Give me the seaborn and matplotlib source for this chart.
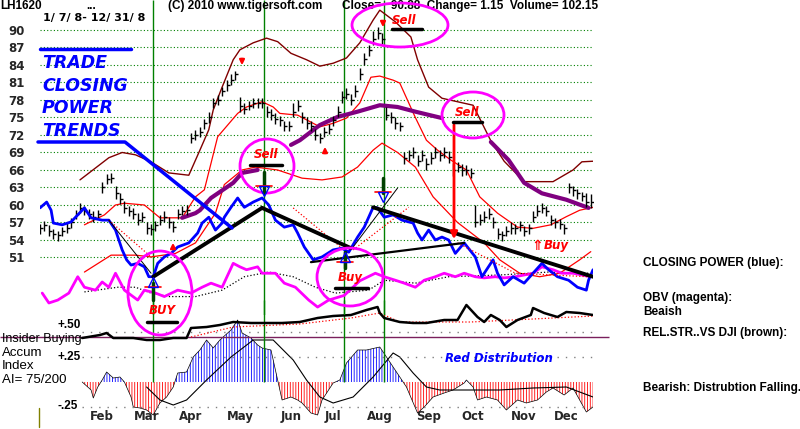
import numpy as np
import matplotlib
matplotlib.use("Agg")
import matplotlib.pyplot as plt
import seaborn as sns
from matplotlib.patches import Ellipse

# x values are trading days counted from 1/7/08
bar_cl = [56, 56.5, 55.5, 55, 54.8, 55.5, 56, 57, 58.5, 59.5,
          59, 58.5, 58, 58.5, 63, 64.5, 64.7, 62, 61, 59.5,
          59, 58.5, 57.5, 58, 56, 55.8, 56.5, 57.5, 58, 57,
          56.3, 58.5, 59, 59.2, 71.5, 72, 72.5, 74, 75, 77.5,
          78, 79.5, 80.5, 81.5, 82.5, 77, 76.5, 77, 77.5, 77.5,
          77.5, 76, 75.5, 74.8, 74.5, 73.5, 73.5, 76, 77, 75,
          74, 73.5, 72, 71.5, 72.5, 73, 74.5, 76, 78.5, 79,
          78, 79.5, 82.5, 85, 86.5, 88.5, 89.5, 88.5, 75.5, 75,
          74, 73.5, 68, 68.5, 69, 67.5, 68.5, 67, 68, 69,
          68.5, 69, 68.2, 66, 66.5, 66, 66, 65.5, 57, 57.5,
          58, 58.5, 57, 55, 54.8, 55.5, 56, 56, 56.5, 55.5,
          56, 58, 59, 59.5, 59, 57.5, 57, 56.8, 56, 63,
          62.5, 62, 61.5, 60.5, 60.5]
bar_hi = [56.8, 57.3, 56.6, 55.8, 55.6, 56.3, 56.9, 57.8, 59.2, 60.3,
          59.8, 59.3, 58.9, 59.2, 64.0, 65.3, 65.4, 63.2, 62.0, 60.6,
          59.8, 59.4, 58.6, 58.8, 57.0, 56.7, 57.3, 58.3, 58.9, 57.9,
          57.2, 59.3, 59.8, 60.0, 72.4, 72.8, 73.4, 74.8, 75.9, 78.3,
          78.9, 80.3, 81.4, 82.4, 83.0, 78.5, 77.4, 77.8, 78.3, 78.3,
          78.4, 77.0, 76.4, 75.7, 75.3, 74.4, 74.4, 77.5, 78.0, 76.0,
          75.0, 74.4, 73.0, 72.3, 73.3, 73.8, 75.3, 77.0, 79.5, 80.0,
          79.0, 80.5, 83.5, 86.0, 87.5, 89.8, 90.5, 89.5, 76.8, 76.0,
          75.0, 74.3, 69.0, 69.5, 70.0, 68.5, 69.5, 68.0, 69.0, 70.0,
          69.5, 70.0, 69.2, 67.2, 67.3, 67.0, 66.8, 66.3, 60.0, 58.5,
          59.0, 59.4, 58.0, 56.0, 55.6, 56.4, 57.0, 56.8, 57.3, 56.4,
          56.8, 59.0, 60.0, 60.3, 59.8, 58.3, 57.8, 57.6, 56.8, 63.8,
          63.3, 62.8, 62.3, 62.0, 61.8]
bar_lo = [55.0, 55.5, 54.6, 54.2, 53.8, 54.6, 55.2, 56.1, 57.6, 58.6,
          58.2, 57.6, 57.1, 57.7, 62.0, 63.6, 63.8, 61.0, 60.1, 58.6,
          58.1, 57.6, 56.6, 57.1, 55.0, 54.9, 55.6, 56.6, 57.1, 56.0,
          55.3, 57.6, 58.2, 58.3, 70.6, 71.2, 71.6, 73.1, 74.1, 76.6,
          77.1, 78.6, 79.6, 80.6, 81.5, 76.0, 75.6, 76.2, 76.6, 76.7,
          76.6, 75.1, 74.6, 73.9, 73.6, 72.6, 72.7, 75.0, 76.1, 74.1,
          73.1, 72.6, 71.1, 70.6, 71.6, 72.1, 73.6, 75.0, 77.5, 78.1,
          77.1, 78.5, 81.5, 84.0, 85.5, 87.5, 88.5, 87.6, 74.5, 74.1,
          73.1, 72.6, 67.0, 67.6, 68.1, 66.6, 67.6, 66.0, 67.1, 68.1,
          67.6, 68.1, 67.2, 65.0, 65.6, 65.0, 65.1, 64.6, 56.2, 56.6,
          57.1, 57.6, 56.0, 54.1, 53.9, 54.6, 55.1, 55.1, 55.6, 54.6,
          55.1, 57.0, 58.1, 58.6, 58.1, 56.6, 56.1, 55.9, 55.1, 62.0,
          61.6, 61.1, 60.6, 59.6, 59.5]

upper_x = [18, 31, 37, 43, 50, 58, 67, 72, 76, 78, 82, 87, 90, 96, 102, 107, 113, 120, 126, 132,
           138, 144, 150, 153, 160, 167, 170, 175, 181, 195, 203, 209, 218, 231, 240, 244, 249]
upper_y = [64.3, 68.1, 69.0, 68.6, 67.4, 65.5, 65.1, 69.4, 72.9, 76.3, 80.2, 84.9, 86.6, 87.8, 88.6, 88.0, 86.0, 84.9, 83.8, 84.3,
           85.2, 87.8, 91.7, 93.4, 91.4, 88.8, 84.9, 80.2, 78.3, 77.1, 71.0, 67.5, 64.0, 64.0, 66.0, 67.4, 67.5]

midA_x = [20, 29, 34, 38, 47, 54, 64, 70, 74, 80, 89, 93, 100, 105, 108, 116, 120, 126, 132, 138,
          144, 149, 153, 159, 162, 169, 174, 179, 185, 192, 198, 206, 215, 222, 230, 237, 243, 249]
midA_y = [56.6, 58.3, 60.0, 60.3, 60.0, 57.8, 57.8, 61.4, 62.6, 71.7, 75.7, 76.8, 77.7, 76.8, 75.7, 75.4, 74.6, 73.4, 74.0, 74.9,
          77.5, 81.9, 82.1, 81.4, 80.9, 75.0, 71.1, 69.4, 67.7, 66.0, 61.4, 58.6, 56.2, 56.0, 56.6, 58.0, 59.1, 59.6]

lowB_x = [20, 32, 43, 50, 61, 70, 79, 83, 91, 97, 107, 118, 127, 136, 143, 150, 154, 161, 169, 177,
          188, 200, 207, 216, 225, 234, 243, 248]
lowB_y = [48.5, 51.4, 51.4, 51.1, 51.7, 53.5, 58.6, 63.5, 66.0, 66.5, 66.0, 64.6, 64.3, 64.8, 66.5, 69.4, 70.6, 69.0, 66.5, 61.4,
          57.0, 53.5, 50.6, 48.3, 47.7, 48.3, 50.6, 52.0]

ma_x = [64, 70, 72, 77, 87, 91, 98, np.nan, 113, 117, 126, 134, 143, 153, 161, 169, 181, np.nan,
        203, 211, 218, 226, 237, 247]
ma_y = [57.8, 58.6, 59.1, 61.2, 63.8, 65.5, 66.0, np.nan, 70.3, 71.1, 73.7, 75.1, 76.0, 77.1, 76.8, 76.0, 74.9, np.nan,
        70.8, 67.7, 63.8, 62.0, 60.9, 59.5]

cp_x = [0, 3, 5, 6, 10, 14, 17, 20, 23, 28, 31, 34, 37, 39, 41, 44, 47, 49, 51, 53,
        56, 59, 62, 67, 71, 73, 76, 79, 82, 83, 86, 89, 92, 96, 100, 103, 106, 110, 114, 116,
        119, 123, 127, 132, 136, 139, 143, 146, 150, 152, 155, 159, 163, 168, 170, 172, 175, 178, 181, 184,
        187, 191, 196, 199, 204, 206, 209, 213, 218, 222, 226, 229, 233, 238, 242, 246, 247, 249]
cp_y = [59.5, 60.5, 59.1, 56.9, 56.6, 57.1, 58.3, 59.5, 57.8, 57.4, 57.4, 55.7, 52.3, 50.6, 49.7, 50.0, 49.4, 47.7, 47.7, 50.0,
        51.1, 51.7, 52.8, 53.5, 55.2, 56.9, 57.9, 55.7, 56.9, 57.9, 59.6, 61.2, 59.6, 60.5, 61.2, 60.0, 57.4, 56.2, 56.6, 55.2,
        52.8, 50.6, 51.1, 52.3, 52.6, 51.9, 54.5, 56.2, 59.6, 59.5, 57.9, 58.3, 57.4, 56.9, 55.2, 54.0, 55.7, 54.0, 54.5, 54.0,
        51.7, 53.5, 51.1, 47.7, 50.6, 48.3, 46.3, 47.7, 46.6, 48.3, 50.0, 48.9, 47.7, 47.1, 45.9, 45.4, 47.1, 48.9]

obv_x = [1, 4, 8, 13, 17, 20, 25, 28, 31, 34, 38, 44, 47, 52, 56, 62, 68, 73, 77, 82,
         87, 90, 93, 98, 100, 106, 110, 115, 121, 125, 130, 137, 144, 151, 155, 160, 164, 169, 173, 178,
         182, 187, 191, 196, 200, 205, 209, 214, 222, 226, 231, 235, 240, 244, 248]
obv_y = [44.9, 43.2, 43.7, 44.9, 47.7, 45.9, 45.4, 46.8, 45.9, 48.3, 45.4, 43.7, 45.4, 44.9, 44.3, 45.4, 44.9, 45.9, 46.6, 45.9,
         50.0, 49.4, 48.9, 49.4, 48.3, 48.3, 46.6, 45.9, 43.7, 42.5, 43.7, 44.5, 47.0, 48.3, 47.7, 47.1, 46.6, 45.9, 47.1, 47.7,
         48.3, 47.7, 48.3, 47.7, 47.5, 47.7, 47.5, 47.7, 48.3, 49.4, 48.9, 48.3, 48.3, 48.0, 47.7]

obv_ma_x = [20, 35, 43, 50, 58, 70, 82, 92, 103, 114, 124, 133, 148, 155, 169, 184, 207, 229, 247]
obv_ma_y = [45.1, 45.9, 45.9, 44.9, 44.3, 44.3, 45.4, 47.7, 48.5, 47.7, 45.9, 44.9, 45.4, 47.1, 46.6, 47.7, 48.0, 48.5, 48.3]

ai_x = [19, 23, 24, 26, 28, 30, 33, 36, 38, 41, 42, 45, 48, 51, 54, 57, 60, 62, 66, 69,
        72, 75, 78, 81, 86, 89, 91, 95, 98, 100, 104, 107, 109, 113, 116, 118, 122, 125, 127, 132,
        135, 138, 143, 147, 153, 156, 159, 162, 165, 170, 173, 177, 182, 186, 191, 192, 195, 197, 201, 206,
        210, 215, 219, 224, 228, 231, 236, 240, 243, 246, 249]
ai_y = [0.0, -0.08, -0.16, -0.05, 0.02, 0.10, 0.04, 0.05, 0.0, -0.15, -0.25, -0.26, -0.28, -0.33, -0.21, -0.15, -0.05, 0.09, 0.10, 0.25,
        0.32, 0.42, 0.34, 0.42, 0.52, 0.62, 0.49, 0.44, 0.37, 0.34, 0.32, 0.02, -0.18, -0.15, -0.18, -0.21, -0.31, -0.33, -0.18, -0.01,
        0.02, 0.19, 0.32, 0.32, 0.35, 0.25, 0.15, 0.05, -0.05, -0.31, -0.25, -0.15, -0.11, -0.08, -0.01, 0.02, -0.05, -0.18, -0.15, -0.18,
        -0.28, -0.18, -0.21, -0.18, -0.10, -0.06, -0.13, -0.06, -0.18, -0.30, -0.25]
ai_ma_x = [48, 54, 60, 66, 75, 86, 96, 105, 114, 120, 126, 132, 141, 150, 159, 162, 168, 174, 180, 192, 207, 222, 237, 249]
ai_ma_y = [-0.05, -0.18, -0.23, -0.18, 0.02, 0.25, 0.42, 0.42, 0.22, 0.02, -0.15, -0.21, -0.15, 0.05, 0.29, 0.25, 0.09,
           -0.05, -0.08, -0.08, -0.08, -0.06, -0.05, -0.15]

rs_x = [19, 27, 30, 33, 42, 48, 54, 60, 66, 68, 75, 81, 87, 95, 102, 109, 117, 125, 132, 140,
        147, 152, 153, 155, 162, 168, 174, 182, 188, 192, 197, 200, 203, 207, 210, 215, 221, 222, 227, 233,
        237, 243, 249]
rs_y = [0.44, 0.47, 0.49, 0.44, 0.44, 0.42, 0.42, 0.44, 0.44, 0.54, 0.55, 0.57, 0.60, 0.59, 0.59, 0.59, 0.60, 0.64, 0.66, 0.67,
        0.72, 0.75, 0.69, 0.64, 0.60, 0.59, 0.59, 0.62, 0.62, 0.77, 0.65, 0.60, 0.67, 0.62, 0.55, 0.62, 0.67, 0.74, 0.69, 0.65,
        0.70, 0.69, 0.67]
rs_ma_x = [68, 87, 117, 140, 153, 162, 194, 222, 249]
rs_ma_y = [0.45, 0.55, 0.58, 0.64, 0.69, 0.60, 0.60, 0.63, 0.66]

trend_x = [[51, 100], [100, 140], [150, 249]]
trend_y = [[47.7, 59.5], [59.5, 52.6], [59.6, 47.7]]
flat_x = [122, 191]
flat_y = [50.2, 53.5]
fan_x = [[31, 50], [141, 161]]
fan_y = [[57.4, 48.3], [52.8, 62.9]]
dots_x = [[31, 50], [114, 136], [141, 166], [188, 214, 247]]
dots_y = [[57.4, 51.1], [59.5, 52.6], [52.3, 59.6], [53.5, 48.3, 47.7]]

signal_days = [51, 101, 137, 155]
price_ticks = [51, 54, 57, 60, 63, 66, 69, 72, 75, 78, 81, 84, 87, 90]
month_names = ['Feb', 'Mar', 'Apr', 'May', 'Jun', 'Jul', 'Aug', 'Sep', 'Oct', 'Nov', 'Dec']
month_pos = [28, 48, 68, 90, 113, 132, 153, 175, 195, 218, 237]

sns.set_theme(style="white")
plt.rcParams['font.family'] = ['DejaVu Sans']
plt.rcParams['hatch.linewidth'] = 0.6
NARROW = ['Liberation Sans', 'DejaVu Sans']

W, H = 800, 429
fig = plt.figure(figsize=(W / 100, H / 100), dpi=100, facecolor='white')


def box(x0, y0, x1, y1):
    return [x0 / W, 1 - y1 / H, (x1 - x0) / W, (y1 - y0) / H]


ax2 = fig.add_axes(box(40, 300, 593, 429))
ax = fig.add_axes(box(40, 0, 593, 315))
ov = fig.add_axes(box(0, 0, W, H))
for a in (ax, ax2, ov):
    a.patch.set_alpha(0)
    for s in a.spines.values():
        s.set_visible(False)

# ---- price panel ----
ax.set_xlim(0, 249)
ax.set_ylim(41.14, 95.14)
ax.set_xticks([])
ax.set_yticks(price_ticks)
ax.set_yticklabels([str(v) for v in price_ticks], fontweight='bold', fontsize=8.5)
ax.tick_params(axis='y', length=0, pad=11)
ax.hlines(price_ticks, 0, 249, colors='green', linestyles=(0, (1, 2)), lw=0.8, zorder=1)
ax.vlines(signal_days, 41.14, 95.14, colors='green', lw=1, zorder=1)

sns.lineplot(x=upper_x, y=upper_y, ax=ax, color='#800000', lw=1, sort=False, estimator=None, zorder=2)
sns.lineplot(x=midA_x, y=midA_y, ax=ax, color='red', lw=0.9, sort=False, estimator=None, zorder=2)
sns.lineplot(x=lowB_x, y=lowB_y, ax=ax, color='red', lw=0.9, sort=False, estimator=None, zorder=2)
ax.plot(ma_x, ma_y, color='#800080', lw=3, zorder=2)

bar_x = np.arange(len(bar_cl)) * 2
ax.vlines(bar_x, bar_lo, bar_hi, colors='black', lw=1, zorder=3)
ax.plot(bar_x, bar_cl, ls='none', marker=1, ms=2.5, mew=1, color='black', zorder=3)

sns.lineplot(x=obv_ma_x, y=obv_ma_y, ax=ax, color='black', lw=0.9, ls=':', sort=False, estimator=None, zorder=3)
sns.lineplot(x=obv_x, y=obv_y, ax=ax, color='#ff00ff', lw=2, sort=False, estimator=None, zorder=4)
sns.lineplot(x=cp_x, y=cp_y, ax=ax, color='blue', lw=2, sort=False, estimator=None, zorder=4)

for xs, ys in zip(dots_x, dots_y):
    ax.plot(xs, ys, color='red', lw=0.9, ls=':', zorder=4)
for xs, ys in zip(fan_x, fan_y):
    ax.plot(xs, ys, color='black', lw=0.7, zorder=4)
ax.plot(flat_x, flat_y, color='black', lw=1.6, zorder=5)
for xs, ys in zip(trend_x, trend_y):
    ax.plot(xs, ys, color='black', lw=2.8, zorder=5)
ax.set_xlabel('')
ax.set_ylabel('')

# ---- accumulation panel ----
ax2.set_xlim(0, 249)
ax2.set_ylim(-0.47, 0.82)
ax2.set_yticks([])
ax2.set_xticks(month_pos)
ax2.set_xticklabels(month_names, fontweight='bold', fontsize=8.5)
ax2.tick_params(axis='x', length=0, pad=-14)
ai = np.array(ai_y)
ax2.fill_between(ai_x, 0, ai, where=ai >= 0, interpolate=True, facecolor='none',
                 edgecolor='blue', hatch='||||||', lw=0)
ax2.fill_between(ai_x, 0, ai, where=ai <= 0, interpolate=True, facecolor='none',
                 edgecolor='red', hatch='||||||', lw=0)
ax2.plot(ai_x, ai_y, color='black', lw=0.5)
sns.lineplot(x=ai_ma_x, y=ai_ma_y, ax=ax2, color='black', lw=0.8, sort=False, estimator=None)
ax2.hlines([0.5, 0.25, -0.25], 19, 249, colors='gray', linestyles=(0, (1, 5)), lw=1)
ax2.hlines(0.45, -18, 256, colors='#7a1f5c', lw=1, clip_on=False)
ax2.vlines(signal_days, 0, 0.82, colors='green', lw=1)
sns.lineplot(x=rs_ma_x, y=rs_ma_y, ax=ax2, color='red', lw=0.9, ls=':', sort=False, estimator=None)
sns.lineplot(x=rs_x, y=rs_y, ax=ax2, color='black', lw=1.8, sort=False, estimator=None)
ax2.set_xlabel('')
ax2.set_ylabel('')

# ---- annotations in pixel space ----
ov.set_xlim(0, W)
ov.set_ylim(H, 0)
ov.set_xticks([])
ov.set_yticks([])

hdr = dict(fontsize=8.5, fontweight='bold', va='center', ha='left', color='black', family=NARROW)
ov.text(0, 6, 'LH1620', **hdr)
ov.text(86, 6, '...', **hdr)
ov.text(168, 6, '(C) 2010 www.tigersoft.com', **hdr)
ov.text(342, 6, 'Close=   90.88  Change= 1.15  Volume= 102.15', **hdr)
ov.text(43, 18, '1/ 7/ 8- 12/ 31/ 8', fontsize=8, fontweight='bold', va='center', ha='left', color='black')

big = dict(fontsize=12.5, fontweight='bold', style='italic', color='blue', va='center', ha='left')
for txt, yy in zip(['TRADE', 'CLOSING', 'POWER', 'TRENDS'], [63, 86, 108, 131]):
    ov.text(42, yy, txt, **big)
ov.plot([40, 131], [49, 49], color='blue', lw=2.5)
ov.plot([38, 125, 232], [142, 142, 228], color='blue', lw=2.5)

circles = [(160, 293, 32, 42), (267, 166, 27, 27), (350, 277, 33, 29), (400, 25, 48, 22), (473, 115, 31, 23)]
for cx, cy, rx, ry in circles:
    ov.add_patch(Ellipse((cx, cy), 2 * rx, 2 * ry, fill=False, edgecolor='#ff00ff', lw=2, zorder=6))

sig = dict(fontsize=8.5, fontweight='bold', style='italic', color='red', ha='center', va='center', zorder=7)
for txt, tx, ty, b0, b1, by in [('BUY', 162, 311, 147, 177, 322), ('Sell', 266, 154, 250, 282, 165),
                                ('Buy', 350, 278, 335, 368, 288), ('Sell', 404, 20, 392, 422, 29),
                                ('Sell', 467, 113, 453, 482, 122)]:
    ov.text(tx, ty, txt, **sig)
    ov.plot([b0, b1], [by, by], color='black', lw=2.5, zorder=7)

# signal markers
for mx, y0, y1, hy, tri in [(153, 283, 300, 287, '^'), (264, 172, 193, 186, 'v'),
                            (345, 252, 268, 262, '^'), (383, 178, 193, 192, 'v')]:
    ov.plot([mx, mx], [y0, y1], color='#004000', lw=2.5, zorder=7)
    ov.plot([mx - 8, mx + 8], [hy, hy], color='red', lw=1.2, zorder=7)
    ov.plot([mx], [hy + (5 if tri == 'v' else -5)], marker=tri, ms=7, mfc='none', mec='blue', mew=1, zorder=7)

arr = dict(arrowstyle='-|>', color='red', lw=1.6, mutation_scale=7)
for x0, y0, y1 in [(242, 56, 68), (383, 19, 30), (325, 156, 144), (173, 251, 240)]:
    ov.annotate('', xy=(x0, y1), xytext=(x0, y0), arrowprops=arr, zorder=7)
ov.annotate('', xy=(454, 242), xytext=(454, 122), arrowprops=dict(arrowstyle='-|>', color='red', lw=2, mutation_scale=10))
ov.text(537, 246, '\u21d1', fontsize=10, fontweight='bold', color='red', ha='center', va='center')
ov.text(556, 246, 'Buy', **sig)

ov.text(499, 358, 'Red Distribution', fontsize=8.5, fontweight='bold', style='italic', color='blue',
        ha='center', va='center')

low = dict(fontsize=9, color='black', va='center', ha='left', family=NARROW)
ov.text(2, 339, 'Insider Buying', **low)
ov.text(2, 353, 'Accum', fontsize=9.5, color='black', va='center', ha='left', family=NARROW)
ov.text(2, 366, 'Index', fontsize=9.5, color='black', va='center', ha='left', family=NARROW)
ov.text(2, 380, 'AI= 75/200', fontsize=9.5, color='black', va='center', ha='left', family=NARROW)
lvl = dict(fontsize=8.5, fontweight='bold', color='black', va='center', ha='left', family=NARROW)
ov.text(57, 325, '+.50', **lvl)
ov.text(57, 357, '+.25', **lvl)
ov.text(57, 406, '-.25', **lvl)
ov.plot([39, 39], [408, 427], color='olive', lw=1)

rt = dict(fontsize=8.5, fontweight='bold', color='black', va='center', ha='left', family=NARROW)
ov.text(643, 263, 'CLOSING POWER (blue):', **rt)
ov.text(643, 298, 'OBV (magenta):', **rt)
ov.text(643, 312, 'Beaish', **rt)
ov.text(643, 333, 'REL.STR..VS DJI (brown):', **rt)
ov.text(643, 388, 'Bearish: Distrubtion Falling.', **rt)

fig.savefig('out.png', dpi=100, facecolor='white')
